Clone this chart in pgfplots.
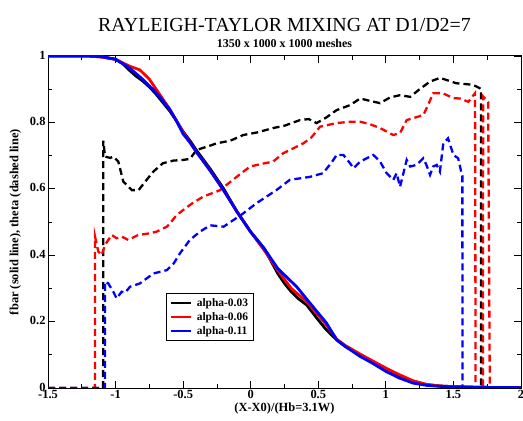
\documentclass[border=0pt]{standalone}
\usepackage{fontspec}
\setmainfont{Liberation Serif}
\usepackage{pgfplots}
\pgfplotsset{compat=1.18}
\begin{document}
\begin{tikzpicture}
\useasboundingbox (-48bp,-33bp) rectangle (475bp,388bp);
\begin{axis}[
  scale only axis, width=473bp, height=332bp,
  xmin=-1.5, xmax=2, ymin=0, ymax=1,
  xtick={-1.5,-1,...,2}, minor xtick={-1.25,-0.75,...,1.75},
  ytick={0,0.2,...,1}, minor ytick={0.1,0.3,...,0.9},
  xticklabels={-1.5,-1,-0.5,0,0.5,1,1.5,2},
  yticklabels={0,0.2,0.4,0.6,0.8,1},
  tick align=inside, major tick length=7bp, minor tick length=4bp,
  tick style={black, line width=0.8bp},
  axis line style={line width=1bp},
  ticklabel style={font=\fontsize{12.5}{14}\selectfont\bfseries},
  /pgf/number format/assume math mode=true,
  xticklabel style={yshift=1bp},
  yticklabel style={xshift=1bp, yshift=1bp},
  xlabel={(X-X0)/(Hb=3.1W)},
  ylabel={fbar (solid line), theta (dashed line)},
  label style={font=\fontsize{12.5}{14}\selectfont\bfseries},
  xlabel style={yshift=3bp},
  ylabel style={yshift=2bp},
  title={\fontsize{20}{22}\selectfont RAYLEIGH-TAYLOR MIXING AT D1/D2=7\\[4bp]\fontsize{12}{13}\selectfont\bfseries 1350 x 1000 x 1000 meshes},
  title style={align=center, yshift=-1bp},
  legend style={at={(axis cs:-0.627,0.286)}, anchor=north west, draw=black, line width=0.6bp,
    font=\fontsize{11.5}{12}\selectfont\bfseries, row sep=0.5bp, column sep=3bp, inner xsep=3bp, inner ysep=3bp},
  legend cell align=left,
  legend image code/.code={\draw[#1, line width=2.5bp] (0bp,0bp) -- (20bp,0bp);},
]
% dashed theta
\addplot[black, line width=2.3bp, dash pattern=on 7bp off 4bp, forget plot] coordinates {
(-1.5,0) (-1.092,0) (-1.091,0.745) (-1.078,0.697) (-1.04,0.693) (-1.017,0.697) (-0.98,0.682) (-0.943,0.622) (-0.88,0.596) (-0.83,0.596) (-0.77,0.627) (-0.72,0.652) (-0.65,0.677) (-0.57,0.685) (-0.5,0.687) (-0.45,0.69) (-0.40,0.717) (-0.3,0.73) (-0.252,0.737) (-0.15,0.745) (-0.055,0.762) (0.05,0.77) (0.166,0.783) (0.25,0.79) (0.365,0.807) (0.43,0.81) (0.488,0.798) (0.56,0.815) (0.636,0.837) (0.735,0.852) (0.81,0.872) (0.88,0.865) (0.957,0.858) (1.03,0.875) (1.105,0.882) (1.18,0.877) (1.25,0.9) (1.327,0.923) (1.40,0.934) (1.47,0.925) (1.52,0.918) (1.60,0.915) (1.645,0.913) (1.695,0.903) (1.704,0.9) (1.705,0) (2,0)};
\addplot[red, line width=2.3bp, dash pattern=on 7bp off 4bp, forget plot] coordinates {
(-1.5,0) (-1.153,0) (-1.152,0.456) (-1.128,0.411) (-1.103,0.40) (-1.078,0.431) (-1.029,0.461) (-0.992,0.451) (-0.955,0.456) (-0.906,0.446) (-0.832,0.461) (-0.745,0.466) (-0.696,0.471) (-0.62,0.486) (-0.597,0.496) (-0.55,0.52) (-0.5,0.536) (-0.43,0.557) (-0.353,0.576) (-0.227,0.596) (-0.104,0.636) (-0.005,0.667) (0.08,0.675) (0.166,0.682) (0.24,0.707) (0.39,0.737) (0.45,0.755) (0.513,0.787) (0.636,0.798) (0.735,0.802) (0.81,0.802) (0.88,0.795) (0.957,0.783) (1.055,0.762) (1.105,0.768) (1.154,0.807) (1.277,0.822) (1.31,0.85) (1.35,0.888) (1.42,0.888) (1.5,0.873) (1.548,0.872) (1.61,0.862) (1.66,0.888) (1.664,0) (1.718,0) (1.72,0.878) (1.757,0.862) (1.769,0) (2,0)};
\addplot[blue, line width=2.3bp, dash pattern=on 7bp off 4bp, forget plot] coordinates {
(-1.5,0) (-1.079,0) (-1.078,0.32) (-1.054,0.315) (-1.017,0.29) (-0.992,0.27) (-0.955,0.29) (-0.93,0.287) (-0.893,0.305) (-0.82,0.315) (-0.72,0.345) (-0.62,0.355) (-0.57,0.375) (-0.523,0.406) (-0.45,0.446) (-0.375,0.471) (-0.30,0.49) (-0.2,0.486) (-0.055,0.526) (0.044,0.557) (0.19,0.596) (0.29,0.627) (0.44,0.636) (0.535,0.647) (0.6,0.68) (0.636,0.702) (0.686,0.702) (0.735,0.677) (0.76,0.662) (0.81,0.682) (0.907,0.702) (0.957,0.682) (1.006,0.647) (1.055,0.627) (1.08,0.647) (1.105,0.606) (1.154,0.687) (1.18,0.667) (1.227,0.672) (1.277,0.692) (1.30,0.672) (1.327,0.642) (1.35,0.667) (1.376,0.672) (1.40,0.652) (1.425,0.737) (1.46,0.752) (1.50,0.702) (1.535,0.692) (1.56,0.647) (1.566,0.64) (1.567,0) (2,0)};
% solid fbar
\addplot[black, line width=2.8bp] coordinates {
(-1.5,1) (-1.2,1) (-1.1,0.997) (-1.0,0.99) (-0.95,0.978) (-0.9,0.958) (-0.85,0.94) (-0.8,0.925) (-0.745,0.905) (-0.7,0.885) (-0.65,0.86) (-0.6,0.835) (-0.55,0.805) (-0.5,0.772) (-0.45,0.745) (-0.4,0.715) (-0.3,0.66) (-0.2,0.60) (-0.1,0.53) (0,0.47) (0.1,0.42) (0.2,0.345) (0.25,0.315) (0.3,0.29) (0.35,0.27) (0.414,0.25) (0.5,0.205) (0.56,0.175) (0.636,0.145) (0.7,0.125) (0.81,0.10) (0.9,0.08) (1.0,0.058) (1.1,0.035) (1.2,0.02) (1.3,0.01) (1.4,0.006) (1.5,0.004) (1.7,0.002) (2,0.001)};
\addplot[red, line width=2.8bp] coordinates {
(-1.5,1) (-1.2,1) (-1.1,0.997) (-1.0,0.99) (-0.9,0.97) (-0.82,0.958) (-0.75,0.93) (-0.7,0.9) (-0.65,0.87) (-0.6,0.84) (-0.55,0.805) (-0.5,0.77) (-0.45,0.74) (-0.4,0.71) (-0.3,0.655) (-0.2,0.595) (-0.1,0.53) (0,0.47) (0.1,0.415) (0.2,0.355) (0.3,0.30) (0.414,0.26) (0.5,0.22) (0.56,0.19) (0.636,0.147) (0.7,0.128) (0.81,0.102) (0.9,0.082) (1.0,0.06) (1.1,0.04) (1.2,0.022) (1.3,0.011) (1.4,0.006) (1.5,0.004) (1.7,0.002) (2,0.001)};
\addplot[blue, line width=2.8bp] coordinates {
(-1.5,1) (-1.2,1) (-1.1,0.998) (-1.0,0.99) (-0.9,0.965) (-0.8,0.93) (-0.7,0.89) (-0.6,0.84) (-0.55,0.805) (-0.5,0.765) (-0.45,0.74) (-0.4,0.71) (-0.3,0.655) (-0.2,0.595) (-0.1,0.53) (0,0.47) (0.1,0.42) (0.2,0.36) (0.34,0.305) (0.45,0.25) (0.56,0.196) (0.636,0.145) (0.7,0.125) (0.81,0.095) (0.9,0.075) (1.0,0.05) (1.1,0.03) (1.2,0.015) (1.3,0.008) (1.4,0.005) (1.5,0.003) (1.7,0.002) (2,0.001)};
\legend{alpha-0.03,alpha-0.06,alpha-0.11}
\end{axis}
\end{tikzpicture}
\end{document}
